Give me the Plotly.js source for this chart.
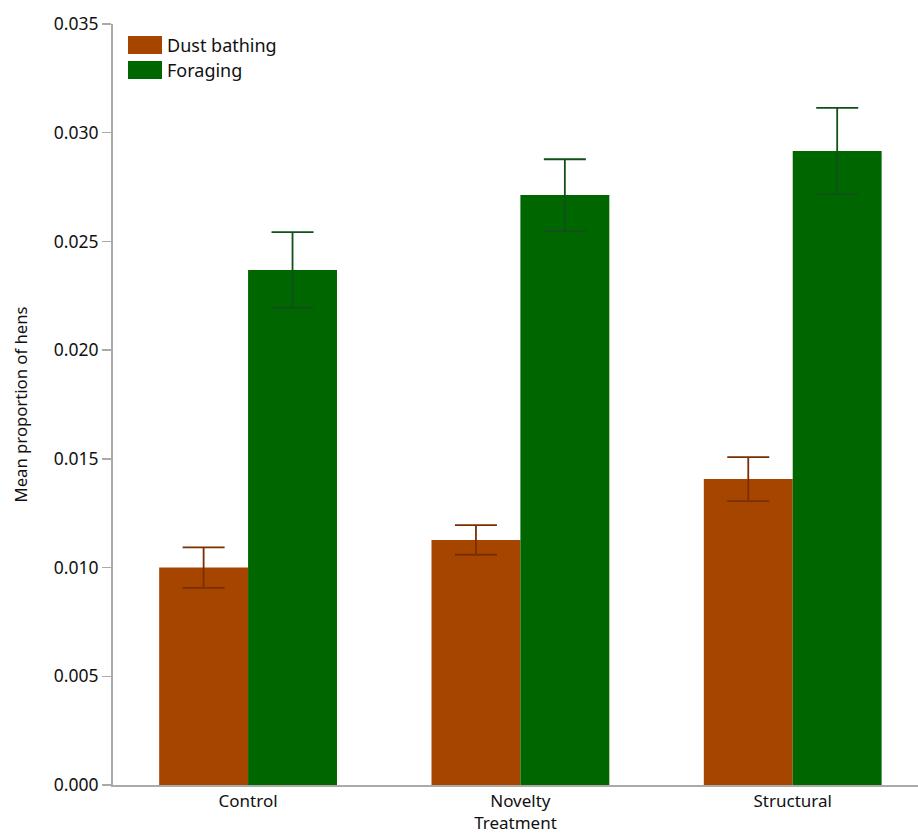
<!DOCTYPE html>
<html>
<head>
<meta charset="utf-8">
<script src="https://cdn.plot.ly/plotly-3.0.1.min.js"></script>
<style>
  html, body { margin: 0; padding: 0; background: #fff; }
  #chart { width: 918px; height: 834px; }
</style>
</head>
<body>
<div id="chart"></div>
<script>
// Mean proportion of hens performing each behaviour, by enrichment treatment
const treatments = ["Control", "Novelty", "Structural"];
const seriesNames = ["Dust bathing", "Foraging"];
const dustBathing = [0.0100, 0.01127, 0.01407];
const dustBathingErr = [0.00093, 0.00068, 0.00101];
const foraging = [0.02369, 0.02713, 0.02916];
const foragingErr = [0.00174, 0.00165, 0.00198];
const yTicks = [0, 0.005, 0.010, 0.015, 0.020, 0.025, 0.030, 0.035];

const fontFamily = "Noto Sans, Open Sans, sans-serif";
const textColor = "#111";
const colors = ["#A64500", "#006600"];
const errColors = ["#7a2f00", "#11501a"];

const traces = [
  {
    type: "bar", name: seriesNames[0], x: treatments, y: dustBathing,
    marker: { color: colors[0] },
    error_y: { type: "data", array: dustBathingErr, visible: true, color: errColors[0], thickness: 1.8, width: 21 }
  },
  {
    type: "bar", name: seriesNames[1], x: treatments, y: foraging,
    marker: { color: colors[1] },
    error_y: { type: "data", array: foragingErr, visible: true, color: errColors[1], thickness: 1.8, width: 21 }
  }
];

// Legend drawn as swatches + labels, positioned in pixels converted to paper coords
const W = 918, H = 834;
const m = { l: 113, r: 0, t: 24, b: 49 };
const pw = W - m.l - m.r, ph = H - m.t - m.b;
const px = (x) => (x - m.l) / pw;
const py = (y) => (H - m.b - y) / ph;

const swatches = [[36, 54], [61, 79]];
const shapes = swatches.map((s, i) => ({
  type: "rect", xref: "paper", yref: "paper",
  x0: px(128), x1: px(162), y0: py(s[1]), y1: py(s[0]),
  fillcolor: colors[i], line: { width: 0 }
}));
const annotations = swatches.map((s, i) => ({
  xref: "paper", yref: "paper", x: px(165), y: py((s[0] + s[1]) / 2),
  xanchor: "left", yanchor: "middle", showarrow: false,
  text: seriesNames[i], font: { family: fontFamily, size: 18, color: textColor }
}));

const layout = {
  width: W, height: H,
  margin: m,
  paper_bgcolor: "#fff", plot_bgcolor: "#fff",
  showlegend: false,
  barmode: "group", bargap: 0.347, bargroupgap: 0,
  font: { family: fontFamily, size: 17, color: textColor },
  xaxis: {
    type: "category", range: [-0.496, 2.46],
    showline: true, linecolor: "#aaa", linewidth: 2,
    ticks: "", showgrid: false, zeroline: false,
    ticklabelstandoff: 0,
    tickfont: { family: fontFamily, size: 17, color: textColor },
    title: { text: "Treatment", font: { family: fontFamily, size: 17, color: textColor }, standoff: 10 }
  },
  yaxis: {
    range: [0, 0.035], tickvals: yTicks, tickformat: ".3f",
    showline: true, linecolor: "#aaa", linewidth: 2,
    ticks: "outside", ticklen: 9, tickcolor: "#aaa", tickwidth: 1.5,
    showgrid: false, zeroline: false,
    tickfont: { family: fontFamily, size: 17.5, color: textColor },
    title: { text: "Mean proportion of hens", font: { family: fontFamily, size: 16.7, color: textColor }, standoff: 22 }
  },
  shapes: shapes,
  annotations: annotations
};

Plotly.newPlot("chart", traces, layout, { displayModeBar: false, staticPlot: true });
</script>
</body>
</html>
